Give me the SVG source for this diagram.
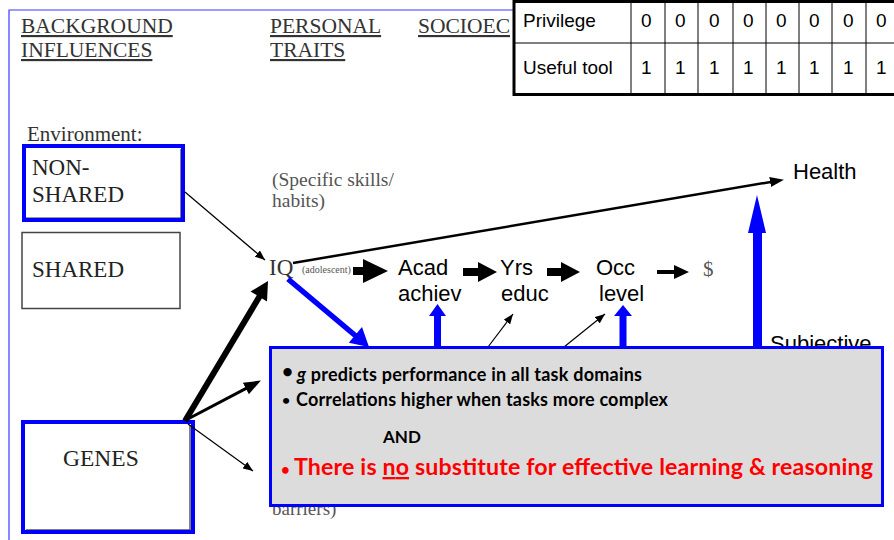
<svg xmlns="http://www.w3.org/2000/svg" width="894" height="540" viewBox="0 0 894 540">
  <style>
    .serif { font-family: "Liberation Serif", "Times New Roman", serif; }
    .sans { font-family: "Liberation Sans", Arial, sans-serif; }
    .cal { font-family: Lato, "Noto Sans", sans-serif; font-weight: bold; }
    .hdr { font-size: 21.5px; fill: #333; text-decoration: underline; }
    .boxlbl { font-size: 23px; fill: #222; }
    .soft { fill: #555; }
    .stage { font-size: 22px; fill: #000; }
    .cell { font-size: 19px; fill: #000; }
    .thin { stroke: #000; stroke-width: 1.2; fill: none; }
    .blk { fill: #000; }
    .blu { fill: #0000ff; }
  </style>
  <defs>
    <marker id="headThin" markerWidth="10" markerHeight="8" refX="10" refY="4" orient="auto" markerUnits="userSpaceOnUse">
      <path d="M0,0 L10,4 L0,8 z" fill="#000"/>
    </marker>
    <marker id="headMid" markerWidth="14" markerHeight="10" refX="8" refY="5" orient="auto" markerUnits="userSpaceOnUse">
      <path d="M0,0 L14,5 L0,10 z" fill="#000"/>
    </marker>
    <marker id="headBig" markerWidth="17" markerHeight="13" refX="10" refY="6.5" orient="auto" markerUnits="userSpaceOnUse">
      <path d="M0,0 L17,6.5 L0,13 z" fill="#000"/>
    </marker>
  </defs>

  <rect width="894" height="540" fill="#fff"/>

  <!-- page frame -->
  <path d="M9,540 V10 H514" fill="none" stroke="#3a3aff" stroke-width="1.2"/>

  <!-- column headings -->
  <g id="headings" class="serif">
    <text class="hdr" x="21" y="33">BACKGROUND</text>
    <text class="hdr" x="21" y="57">INFLUENCES</text>
    <text class="hdr" x="270" y="33">PERSONAL</text>
    <text class="hdr" x="270" y="57">TRAITS</text>
    <text class="hdr" x="418" y="33">SOCIOEC</text>
  </g>

  <text class="serif" x="27" y="141" font-size="21" fill="#333">Environment:</text>

  <!-- environment boxes -->
  <g id="non-shared">
    <path d="M181,149 V218 H26" fill="none" stroke="#333" stroke-width="1.2"/>
    <rect x="24" y="146" width="159" height="74" fill="none" stroke="#0000ff" stroke-width="4"/>
    <text class="serif boxlbl" x="32" y="175">NON-</text>
    <text class="serif boxlbl" x="32" y="202">SHARED</text>
  </g>

  <g id="shared">
    <rect x="22" y="232.5" width="158" height="76" fill="none" stroke="#444" stroke-width="1.5"/>
    <text class="serif boxlbl" x="32" y="277">SHARED</text>
  </g>

  <g id="genes">
    <path d="M190,425 V530 H26" fill="none" stroke="#555" stroke-width="1.5"/>
    <rect x="23" y="422" width="170" height="110" fill="none" stroke="#0000ff" stroke-width="4"/>
    <text class="serif" x="63" y="466" font-size="23.5" fill="#222">GENES</text>
  </g>

  <!-- traits column -->
  <g id="skills">
    <text class="serif soft" x="272" y="186" font-size="19.5">(Specific skills/</text>
    <text class="serif soft" x="272" y="207" font-size="19.5">habits)</text>
  </g>

  <g id="iq">
    <text class="serif" x="269" y="275" font-size="23" fill="#333">IQ</text>
    <text class="serif soft" x="302" y="273" font-size="10">(adolescent)</text>
  </g>

  <!-- socioeconomic chain -->
  <g id="acad">
    <text class="sans stage" x="398" y="275">Acad</text>
    <text class="sans stage" x="398" y="301">achiev</text>
  </g>
  <g id="yrs">
    <text class="sans stage" x="500" y="275">Yrs</text>
    <text class="sans stage" x="501" y="301">educ</text>
  </g>
  <g id="occ">
    <text class="sans stage" x="596" y="275">Occ</text>
    <text class="sans stage" x="599" y="301">level</text>
  </g>
  <g id="income">
    <text class="serif soft" x="703" y="276" font-size="21">$</text>
  </g>
  <g id="health">
    <text class="sans stage" x="793" y="179">Health</text>
  </g>
  <g id="subjective">
    <text class="sans stage" x="770" y="351">Subjective</text>
  </g>
  <g id="barriers">
    <text class="serif soft" x="272" y="515" font-size="19">barriers)</text>
  </g>

  <!-- connectors -->
  <g id="connectors">
    <line class="thin" x1="185" y1="192" x2="265" y2="260" marker-end="url(#headThin)"/>
    <line x1="293" y1="263" x2="778" y2="180.7" stroke="#000" stroke-width="2.5" marker-end="url(#headMid)"/>

    <polygon class="blk" points="353,267 363,267 363,259 388,271 363,283 363,275 353,275"/>
    <polygon class="blk" points="463,268 478,268 478,262 497,272 478,282 478,276 463,276"/>
    <polygon class="blk" points="547,268 561,268 561,262 580,272 561,282 561,276 547,276"/>
    <polygon class="blk" points="657,270 674,270 674,265 689,272 674,279 674,274 657,274"/>

    <!-- from genes -->
    <line x1="185" y1="421" x2="261" y2="294" stroke="#000" stroke-width="6"/>
    <polygon class="blk" points="268,281 267,301.5 250.5,291.5"/>
    <line x1="186" y1="420" x2="254.7" y2="383.8" stroke="#000" stroke-width="3" marker-end="url(#headBig)"/>
    <line class="thin" x1="188" y1="424" x2="253" y2="471" marker-end="url(#headThin)"/>

    <!-- IQ into the summary box -->
    <line x1="288" y1="279" x2="357" y2="337" stroke="#0000ff" stroke-width="5.5"/>
    <polygon class="blu" points="369,347 348.8,342.8 362,327"/>

    <!-- from the summary box upward -->
    <polygon class="blu" points="434,348 434,316 429,316 437.5,304 446,316 441,316 441,348"/>
    <polygon class="blu" points="619.5,348 619.5,316 614,316 623,305 632,316 626.5,316 626.5,348"/>
    <polygon class="blu" points="753,348 753,233 748,233 757,195 766,233 762,233 762,348"/>
    <line class="thin" x1="488" y1="347" x2="513" y2="314" marker-end="url(#headThin)"/>
    <line class="thin" x1="564" y1="347" x2="605" y2="314" marker-end="url(#headThin)"/>
  </g>

  <!-- summary box -->
  <g id="summary">
    <rect x="270.5" y="347.5" width="612" height="158" fill="#dcdcdc" stroke="#0000ff" stroke-width="3"/>
    <text class="cal" x="282" y="378" font-size="19" fill="#000">•</text>
    <text class="cal" x="297" y="381" font-size="18" fill="#000" textLength="345"><tspan font-style="italic">g</tspan> predicts performance in all task domains</text>
    <text class="cal" x="282" y="405" font-size="14" fill="#000">•</text>
    <text class="cal" x="296" y="406" font-size="18" fill="#000" textLength="372">Correlations higher when tasks more complex</text>
    <text class="cal" x="383" y="443" font-size="17" fill="#000">AND</text>
    <text class="cal" x="281" y="475" font-size="15" fill="#ff0000">•</text>
    <text class="cal" x="294" y="475" font-size="23.2" fill="#ff0000" textLength="579">There is <tspan text-decoration="underline">no</tspan> substitute for effective learning &amp; reasoning</text>
  </g>

  <!-- rating table -->
  <g id="table" class="sans">
    <rect x="514" y="1.5" width="400" height="93" fill="#fff" stroke="#000" stroke-width="3"/>
    <line x1="514" y1="43" x2="894" y2="43" stroke="#000" stroke-width="1"/>
    <g stroke="#000" stroke-width="1">
      <line x1="631" y1="1" x2="631" y2="95"/>
      <line x1="665" y1="1" x2="665" y2="95"/>
      <line x1="698" y1="1" x2="698" y2="95"/>
      <line x1="733" y1="1" x2="733" y2="95"/>
      <line x1="766" y1="1" x2="766" y2="95"/>
      <line x1="799" y1="1" x2="799" y2="95"/>
      <line x1="832" y1="1" x2="832" y2="95"/>
      <line x1="866" y1="1" x2="866" y2="95"/>
    </g>
    <text class="cell" x="523" y="27">Privilege</text>
    <text class="cell" x="523" y="74">Useful tool</text>
    <g class="cell">
      <text x="641" y="27">0</text><text x="675" y="27">0</text><text x="709" y="27">0</text><text x="743" y="27">0</text>
      <text x="776" y="27">0</text><text x="809" y="27">0</text><text x="843" y="27">0</text><text x="876" y="27">0</text>
      <text x="641" y="74">1</text><text x="675" y="74">1</text><text x="709" y="74">1</text><text x="743" y="74">1</text>
      <text x="776" y="74">1</text><text x="809" y="74">1</text><text x="843" y="74">1</text><text x="876" y="74">1</text>
    </g>
  </g>
</svg>
